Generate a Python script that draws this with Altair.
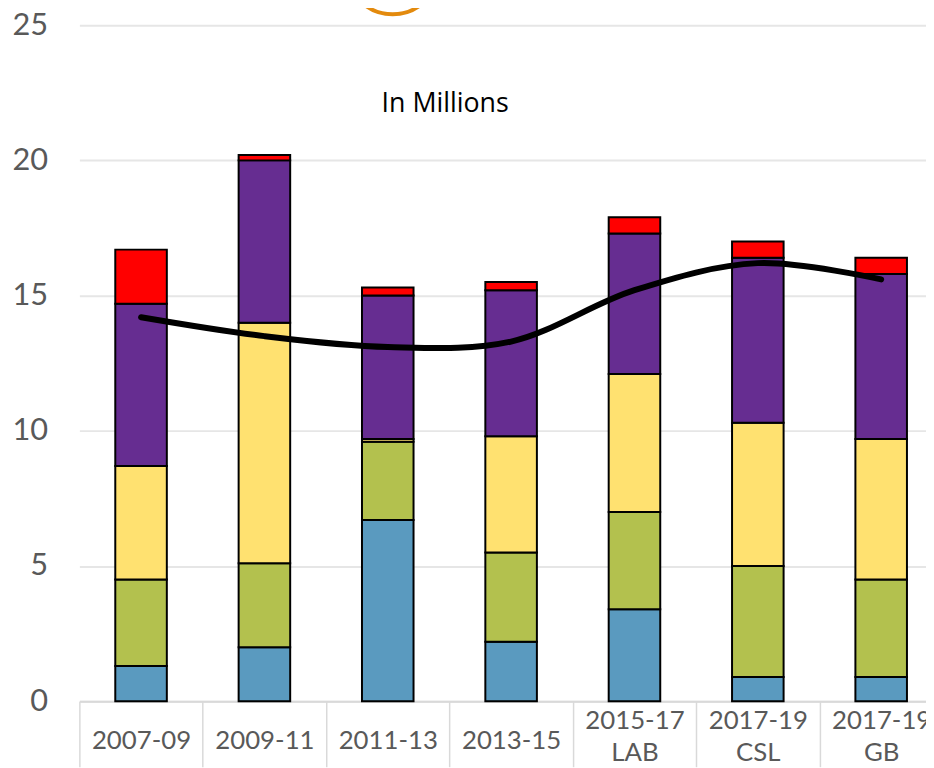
import altair as alt
import pandas as pd

periods = ["2007-09", "2009-11", "2011-13", "2013-15", "2015-17 LAB", "2017-19 CSL", "2017-19 GB"]
series = ["S1", "S2", "S3", "S4", "S5"]
colors = ["#5a9abf", "#b3c14e", "#ffe170", "#662d91", "#ff0000"]
s1 = [1.3, 2.0, 6.7, 2.2, 3.4, 0.9, 0.9]
s2 = [3.2, 3.1, 2.9, 3.3, 3.6, 4.1, 3.6]
s3 = [4.2, 8.9, 0.1, 4.3, 5.1, 5.3, 5.2]
s4 = [6.0, 6.0, 5.3, 5.4, 5.2, 6.1, 6.1]
s5 = [2.0, 0.2, 0.3, 0.3, 0.6, 0.6, 0.6]
line_vals = [14.2, 13.5, 13.1, 13.3, 15.2, 16.2, 15.6]
y_ticks = [0, 5, 10, 15, 20, 25]
title_text = ["In Millions"]

rows = []
for k, vals in enumerate([s1, s2, s3, s4, s5]):
    for p, v in zip(periods, vals):
        rows.append({"period": p, "series": series[k], "idx": k, "value": v})
bars_df = pd.DataFrame(rows)
line_df = pd.DataFrame({"period": periods, "value": line_vals})

FONT = "Lato"
two_line_test = "indexof(datum.label, ' ') > 0"

x_enc = alt.X(
    "period:N",
    sort=periods,
    scale=alt.Scale(domain=periods, range=[0, 871], paddingInner=0, paddingOuter=0),
    axis=alt.Axis(
        title=None, labelAngle=0, labelExpr="split(datum.label, ' ')",
        tickBand="extent", tickSize=66, tickColor="#d9d9d9", tickWidth=1.5,
        domainColor="#d9d9d9", domainWidth=2,
        labelPadding={"condition": {"test": two_line_test, "value": -47}, "value": -26},
        labelBaseline="middle", labelFont=FONT,
        labelFontSize=26, labelColor="#595959", labelLineHeight=33, grid=False,
    ),
)

y_enc = alt.Y(
    "value:Q",
    stack="zero",
    scale=alt.Scale(domain=[0, 25], nice=False),
    axis=alt.Axis(
        values=y_ticks, title=None, domain=False, ticks=False, labelPadding=32,
        labelFont=FONT, labelFontSize=31, labelColor="#595959",
        gridColor="#e6e6e6", gridWidth=2,
    ),
)

bars = alt.Chart(bars_df).mark_bar(size=52, stroke="black", strokeWidth=2).encode(
    x=x_enc,
    y=y_enc,
    color=alt.Color("series:N", scale=alt.Scale(domain=series, range=colors), legend=None),
    order=alt.Order("idx:Q"),
)

line = alt.Chart(line_df).mark_line(
    interpolate="catmull-rom", color="black", strokeWidth=6, strokeCap="round"
).encode(
    x=alt.X("period:N", sort=periods),
    y=alt.Y("value:Q"),
)

title = alt.Chart(pd.DataFrame({"t": title_text})).mark_text(
    font="Open Sans", fontSize=27, color="black"
).encode(x=alt.value(369), y=alt.value(80), text="t:N")

logo = alt.Chart(pd.DataFrame({"r": [1]})).mark_point(
    shape="circle", filled=False, size=8836, stroke="#e38a0d", strokeWidth=4, opacity=1
).encode(x=alt.value(316), y=alt.value(-58))

chart = alt.layer(bars, line, title, logo).properties(
    width=854,
    height=682,
    autosize=alt.AutoSizeParams(type="none"),
    padding={"left": 72, "top": 14, "right": 0, "bottom": 64},
).configure_view(stroke=None)

chart.save("out.html", embed_options={"renderer": "svg", "actions": False})
